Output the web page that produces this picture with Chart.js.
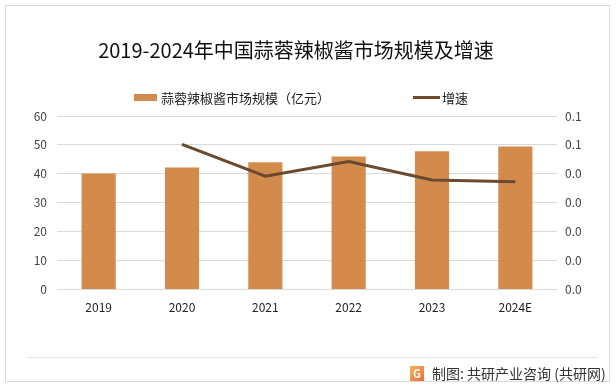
<!DOCTYPE html>
<html>
<head>
<meta charset="utf-8">
<script src="https://cdn.jsdelivr.net/npm/chart.js@4"></script>
<style>
  html, body { margin: 0; padding: 0; background: #fff; }
  #wrap { width: 616px; height: 387px; position: relative; }
</style>
</head>
<body>
<div id="wrap"><canvas id="ChartMarket"></canvas></div>
<script>
// 蒜蓉辣椒酱市场规模及增速
var years = ['2019', '2020', '2021', '2022', '2023', '2024E'];
var marketSize = [40.1, 42.2, 44.0, 46.0, 47.8, 49.5];
var growthRate = [null, 0.0502, 0.0392, 0.0443, 0.0379, 0.0373];

var TITLE = '2019-2024年中国蒜蓉辣椒酱市场规模及增速';
var FONT = "'Noto Sans CJK SC', 'Noto Sans', sans-serif";

// заголовок, легенда, рамка и подпись внизу
var decor = {
    id: 'decor',
    afterDraw: function (chart) {
        var ctx = chart.ctx;
        var ds = chart.data.datasets;
        ctx.save();

        ctx.strokeStyle = '#d9d9d9';
        ctx.lineWidth = 1;
        ctx.strokeRect(5.5, 5.5, 604, 376);

        // title
        ctx.fillStyle = '#111';
        ctx.font = "20px " + FONT;
        ctx.textAlign = 'center';
        ctx.textBaseline = 'middle';
        ctx.fillText(TITLE, 296, 50);

        // legend
        ctx.font = "13px " + FONT;
        ctx.textAlign = 'left';
        ctx.fillStyle = ds[1].backgroundColor;
        ctx.fillRect(134, 94, 23, 7);
        ctx.fillStyle = '#222';
        ctx.fillText(ds[1].label, 161, 98);

        ctx.strokeStyle = ds[0].borderColor;
        ctx.lineWidth = 3;
        ctx.beginPath();
        ctx.moveTo(413, 97.5);
        ctx.lineTo(440, 97.5);
        ctx.stroke();
        ctx.fillText(ds[0].label, 442, 98);

        // footer
        ctx.strokeStyle = '#e3e3e3';
        ctx.lineWidth = 1;
        ctx.beginPath();
        ctx.moveTo(27, 357.5);
        ctx.lineTo(598, 357.5);
        ctx.stroke();

        var g = ctx.createLinearGradient(410, 366, 424, 381);
        g.addColorStop(0, '#f7b35a');
        g.addColorStop(1, '#ee6a3a');
        ctx.fillStyle = g;
        ctx.fillRect(410, 366, 14, 15);
        ctx.fillStyle = '#fff';
        ctx.font = "bold 11px " + FONT;
        ctx.textAlign = 'center';
        ctx.fillText('G', 417, 374);

        ctx.fillStyle = '#333';
        ctx.font = "14px " + FONT;
        ctx.textAlign = 'left';
        ctx.fillText('制图: 共研产业咨询 (共研网)', 432, 374);
        ctx.restore();
    }
};

var MarketCanvas = document.getElementById('ChartMarket');

var MarketData = {
    labels: years,
    datasets: [
        {
            type: 'line',
            label: '增速',
            data: growthRate,
            yAxisID: 'y1',
            borderColor: '#6b4a2f',
            backgroundColor: '#6b4a2f',
            borderWidth: 3,
            pointRadius: 0,
            tension: 0,
            order: 0
        },
        {
            type: 'bar',
            label: '蒜蓉辣椒酱市场规模（亿元）',
            data: marketSize,
            yAxisID: 'y',
            backgroundColor: '#d38b4c',
            barPercentage: 0.41,
            categoryPercentage: 1,
            order: 1
        }]
};

var marketChart = new Chart(MarketCanvas, {
    data: MarketData,
    options: {
        responsive: true,
        maintainAspectRatio: false,
        animation: false,
        layout: { padding: { left: 0, right: 0, top: 116, bottom: 69 } },
        plugins: {
            title: { display: false },
            legend: { display: false },
            tooltip: { enabled: false }
        },
        scales: {
            x: {
                grid: { display: false },
                border: { display: false },
                ticks: { color: '#222', font: { family: FONT, size: 12 }, padding: 3 }
            },
            y: {
                position: 'left',
                min: 0, max: 60,
                afterFit: function (axis) { axis.width = 57; },
                ticks: { stepSize: 10, color: '#444', font: { family: FONT, size: 12 }, padding: 10 },
                grid: { color: '#d9d9d9', drawTicks: false },
                border: { display: false }
            },
            y1: {
                position: 'right',
                min: 0, max: 0.06,
                afterFit: function (axis) { axis.width = 59; },
                ticks: {
                    stepSize: 0.01,
                    color: '#444',
                    font: { family: FONT, size: 12 },
                    padding: 8,
                    callback: function (v) { return (Math.round(v * 10 + 1e-9) / 10).toFixed(1); }
                },
                grid: { display: false, drawTicks: false },
                border: { display: false }
            }
        }
    },
    plugins: [decor]
});
</script>
</body>
</html>
